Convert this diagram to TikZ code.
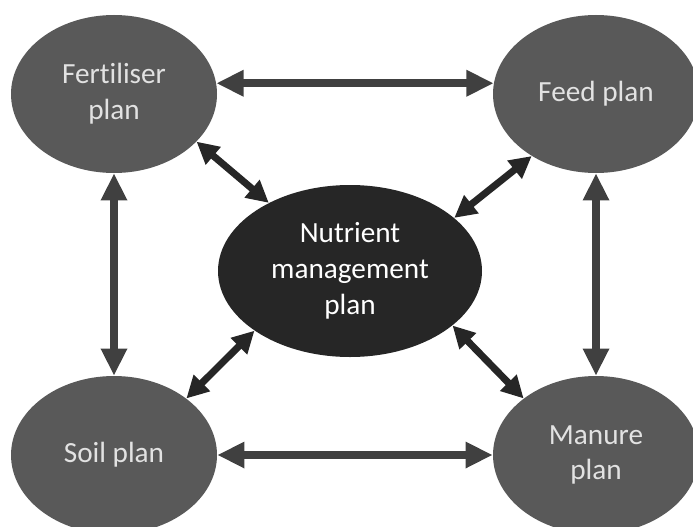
\documentclass[tikz,border=0pt]{standalone}
\usepackage{fontspec}
\setmainfont{Carlito}[Ligatures=NoCommon]
\usepackage{tikz}
\usetikzlibrary{positioning}
\usetikzlibrary{shapes.geometric}
\usetikzlibrary{arrows.meta}
\definecolor{plangrey}{HTML}{595959}
\definecolor{plantext}{HTML}{E2E2E2}
\definecolor{coredark}{HTML}{262626}
\definecolor{linkgrey}{HTML}{404040}

\begin{document}
\begin{tikzpicture}
[
plan/.style={ellipse, fill=plangrey, text=plantext, minimum width=51.5mm, minimum height=39.5mm, inner sep=0pt, align=center, font=\fontsize{20.8}{25.5}\selectfont},
core/.style={plan, fill=coredark, text=white, minimum width=66mm, minimum height=43mm},
link-a/.style={draw=linkgrey, line width=2mm, {Triangle[length=6.8mm,width=6.2mm]}-{Triangle[length=6.8mm,width=6.2mm]}},
link-b/.style={draw=coredark, line width=1.75mm, {Triangle[length=5.5mm,width=5.5mm]}-{Triangle[length=5.5mm,width=5.5mm]}},
]
\useasboundingbox (0,0) rectangle (17.325,13.15);
\node (fert)   [plan] at (2.85,10.8)  {Fertiliser\\plan};
\node (feed)   [plan] at (14.9,10.8)  {Feed plan};
\node (soil)   [plan] at (2.85,1.775) {Soil plan};
\node (manure) [plan] at (14.9,1.775) {Manure\\plan};
\node (nmp)    [core] at (8.75,6.375) {Nutrient\\management\\plan};
\draw [link-a] (fert.6) -- (feed.174);
\draw [link-a] (soil.east) -- (manure.west);
\draw [link-a] (fert.south) -- (soil.north);
\draw [link-a] (feed.south) -- (manure.north);
\draw [link-b] (fert.-30) -- (nmp.140);
\draw [link-b] (feed.224) -- (nmp.27);
\draw [link-b] (soil.38) -- (nmp.212);
\draw [link-b] (manure.142) -- (nmp.-28);
\end{tikzpicture}
\end{document}
